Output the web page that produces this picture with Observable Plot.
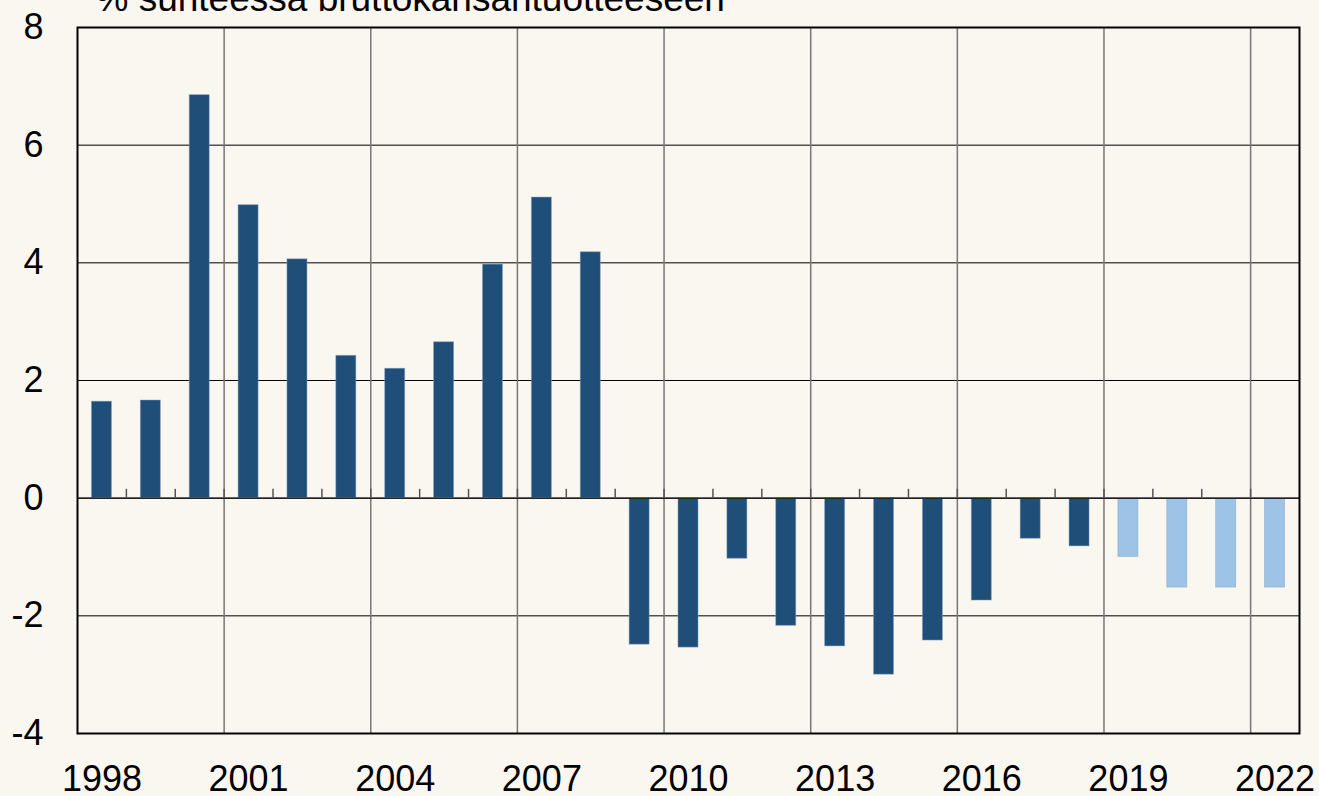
<!DOCTYPE html>
<html>
<head>
<meta charset="utf-8">
<script src="https://cdn.jsdelivr.net/npm/d3@7"></script>
<script src="https://cdn.jsdelivr.net/npm/@observablehq/plot@0.6"></script>
<style>
  html, body { margin: 0; padding: 0; background: #faf6f0; overflow: hidden; }
  #chart svg { overflow: visible; }
</style>
</head>
<body>
<div id="chart"></div>
<script>
const title = "% suhteessa bruttokansantuotteeseen";
const years = [1998, 1999, 2000, 2001, 2002, 2003, 2004, 2005, 2006, 2007, 2008, 2009, 2010,
               2011, 2012, 2013, 2014, 2015, 2016, 2017, 2018, 2019, 2020, 2021, 2022];
const values = [1.64, 1.66, 6.85, 4.98, 4.06, 2.42, 2.20, 2.65, 3.97, 5.11, 4.18, -2.49, -2.54,
                -1.03, -2.17, -2.52, -3.00, -2.42, -1.74, -0.69, -0.82, -1.00, -1.52, -1.52, -1.52];
const kinds = ["toteutunut","toteutunut","toteutunut","toteutunut","toteutunut","toteutunut",
               "toteutunut","toteutunut","toteutunut","toteutunut","toteutunut","toteutunut",
               "toteutunut","toteutunut","toteutunut","toteutunut","toteutunut","toteutunut",
               "toteutunut","toteutunut","toteutunut","ennuste","ennuste","ennuste","ennuste"];
const xTickYears = [1998, 2001, 2004, 2007, 2010, 2013, 2016, 2019, 2022];
const yTicks = [-4, -2, 0, 2, 4, 6, 8];
const gridYears = [2001, 2004, 2007, 2010, 2013, 2016, 2019, 2022];

const data = years.map((y, i) => ({year: y, value: values[i], kind: kinds[i]}));
const halfBar = 0.205;

const chart = Plot.plot({
  width: 1319,
  height: 796,
  marginLeft: 77,
  marginRight: 20,
  marginTop: 27,
  marginBottom: 63,
  style: {background: "#faf6f0", fontFamily: "'Liberation Sans', Arial, sans-serif", color: "#000"},
  x: {domain: [years[0] - 0.5, years[years.length - 1] + 0.5]},
  y: {domain: [-4, 8]},
  color: {domain: ["toteutunut", "ennuste"], range: ["#1f4e79", "#9dc3e6"]},
  marks: [
    Plot.ruleY(yTicks, {stroke: "#000", strokeWidth: 1}),
    Plot.ruleX(gridYears, {x: d => d - 0.5, stroke: "#777", strokeWidth: 1.5}),
    Plot.rectY(data, {
      x1: d => d.year - halfBar,
      x2: d => d.year + halfBar,
      y1: 0,
      y2: "value",
      fill: "kind",
      stroke: "#8aa3bb",
      strokeWidth: 0.8,
      strokeOpacity: 0.6
    }),
    Plot.ruleY([0], {stroke: "#222", strokeWidth: 1.5}),
    Plot.ruleX(years.slice(1), {x: d => d - 0.5, y1: 0, y2: 0.15, stroke: "#555", strokeWidth: 1.5}),
    Plot.axisY({ticks: yTicks, tickFormat: d => String(d), tickSize: 0, tickPadding: 34, fontSize: 36, label: null}),
    Plot.axisX({ticks: xTickYears, tickFormat: d => String(d), tickSize: 0, tickPadding: 32, fontSize: 36, label: null}),
    Plot.frame({stroke: "#000", strokeWidth: 2}),
    Plot.text([title], {
      frameAnchor: "top-left",
      dx: 18,
      dy: -17,
      textAnchor: "start",
      lineAnchor: "bottom",
      fontSize: 37,
      fill: "#000"
    })
  ]
});
document.getElementById("chart").appendChild(chart);
</script>
</body>
</html>
